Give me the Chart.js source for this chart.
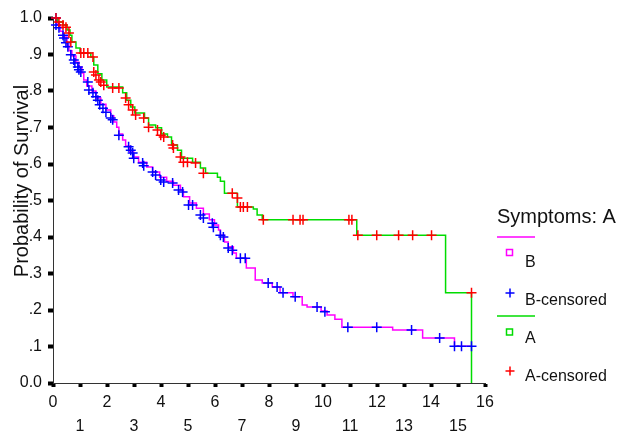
<!DOCTYPE html>
<html>
<head>
<meta charset="utf-8">
<script src="https://cdn.jsdelivr.net/npm/chart.js@4.4.1/dist/chart.umd.min.js"></script>
<style>
  body { margin: 0; background: #fff; }
</style>
</head>
<body>
<canvas id="survChart" width="619" height="435"></canvas>
<script>
// Kaplan-Meier steps (time, survival after the drop)
const aTime = [0, 0.18, 0.37, 0.52, 0.63, 0.70, 0.85, 1.00, 1.40, 1.51, 1.66, 1.81, 1.99, 2.58, 2.73,
  2.88, 3.03, 3.39, 3.54, 3.80, 4.02, 4.24, 4.39, 4.61, 4.76, 5.17, 5.46, 5.65, 6.09, 6.20,
  6.35, 6.83, 7.42, 7.56, 7.75, 11.25, 14.54, 15.50, 15.50];
const aSurv = [1.0, 0.989, 0.981, 0.967, 0.953, 0.934, 0.918, 0.904, 0.893, 0.871, 0.847, 0.830, 0.811, 0.795, 0.775,
  0.756, 0.740, 0.726, 0.707, 0.699, 0.682, 0.674, 0.652, 0.638, 0.616, 0.605, 0.589, 0.575, 0.564, 0.553,
  0.520, 0.482, 0.477, 0.460, 0.447, 0.405, 0.247, 0.247, 0];

const aCensTime = [0.11, 0.22, 0.37, 0.48, 0.59, 0.66, 1.03, 1.14, 1.29, 1.48, 1.51, 1.59, 1.70, 1.77, 1.88,
  2.21, 2.44, 2.69, 2.80, 2.95, 3.06, 3.36, 3.54, 3.87, 3.99, 4.10, 4.43, 4.46, 4.72, 4.83,
  4.98, 5.28, 5.57, 6.64, 6.83, 6.94, 7.05, 7.20, 7.79, 8.89, 9.15, 9.26, 10.96, 11.07, 11.29,
  11.99, 12.80, 13.32, 14.02, 15.50];
const aCensSurv = [1.0, 0.989, 0.981, 0.975, 0.959, 0.934, 0.904, 0.904, 0.904, 0.893, 0.852, 0.844, 0.830, 0.825, 0.816,
  0.808, 0.808, 0.781, 0.762, 0.748, 0.734, 0.726, 0.701, 0.693, 0.679, 0.674, 0.652, 0.644, 0.619, 0.605,
  0.605, 0.603, 0.575, 0.520, 0.507, 0.482, 0.482, 0.482, 0.447, 0.447, 0.447, 0.447, 0.447, 0.447, 0.405,
  0.405, 0.405, 0.405, 0.405, 0.247];

const bTime = [0, 0.15, 0.26, 0.37, 0.52, 0.59, 0.70, 0.85, 0.96, 1.07, 1.14, 1.25, 1.44, 1.59, 1.77,
  1.96, 2.14, 2.25, 2.36, 2.44, 2.58, 2.69, 2.84, 2.99, 3.17, 3.47, 3.69, 3.95, 4.21, 4.46,
  4.72, 4.83, 5.06, 5.31, 5.57, 5.79, 5.98, 6.13, 6.20, 6.35, 6.49, 6.68, 6.79, 7.16, 7.49,
  7.75, 8.12, 8.41, 8.89, 9.23, 9.41, 9.93, 10.15, 10.44, 10.70, 12.58, 13.69, 14.87, 15.50];
const bSurv = [1.0, 0.981, 0.964, 0.948, 0.926, 0.910, 0.896, 0.879, 0.866, 0.849, 0.830, 0.814, 0.800, 0.781, 0.764,
  0.748, 0.732, 0.715, 0.701, 0.682, 0.666, 0.649, 0.633, 0.619, 0.605, 0.592, 0.578, 0.564, 0.553, 0.542,
  0.529, 0.510, 0.493, 0.479, 0.463, 0.447, 0.433, 0.419, 0.405, 0.386, 0.373, 0.356, 0.342, 0.315, 0.282,
  0.274, 0.263, 0.247, 0.236, 0.214, 0.208, 0.197, 0.186, 0.175, 0.153, 0.145, 0.123, 0.101, 0.101];

const bCensTime = [0.11, 0.11, 0.22, 0.37, 0.41, 0.48, 0.55, 0.66, 0.77, 0.81, 0.92, 0.96, 1.03, 1.29, 1.33,
  1.48, 1.59, 1.66, 1.73, 1.85, 1.96, 2.14, 2.21, 2.44, 2.80, 2.88, 2.95, 2.99, 3.32, 3.36,
  3.69, 3.80, 3.99, 4.10, 4.43, 4.65, 4.80, 5.02, 5.17, 5.46, 5.57, 5.90, 5.94, 6.20, 6.31,
  6.49, 6.64, 6.94, 7.12, 7.97, 8.30, 8.52, 8.97, 9.78, 10.07, 10.92, 11.99, 13.28, 14.32, 14.87,
  15.13, 15.50];
const bCensSurv = [1.0, 0.981, 0.973, 0.953, 0.945, 0.932, 0.921, 0.899, 0.885, 0.877, 0.866, 0.858, 0.852, 0.825, 0.803,
  0.795, 0.784, 0.775, 0.762, 0.753, 0.742, 0.726, 0.721, 0.679, 0.647, 0.638, 0.630, 0.616, 0.603, 0.595,
  0.578, 0.570, 0.556, 0.551, 0.548, 0.529, 0.523, 0.488, 0.488, 0.460, 0.452, 0.438, 0.427, 0.405, 0.400,
  0.370, 0.364, 0.342, 0.342, 0.274, 0.263, 0.247, 0.236, 0.208, 0.195, 0.153, 0.153, 0.145, 0.123, 0.101,
  0.101, 0.101];

const xTickLabels = ["0", "1", "2", "3", "4", "5", "6", "7", "8", "9", "10", "11", "12", "13", "14", "15", "16"];
const yTickLabels = ["0.0", ".1", ".2", ".3", ".4", ".5", ".6", ".7", ".8", ".9", "1.0"];
const yTitle = "Probability of Survival";
const legendTitle = "Symptoms: A";
const legendLabels = ["B", "B-censored", "A", "A-censored"];

const FONT = "'Liberation Sans', Arial, sans-serif";
const GREEN = "rgb(0, 220, 0)";
const MAGENTA = "rgb(255, 0, 255)";
const RED = "rgb(255, 0, 0)";
const BLUE = "rgb(0, 0, 255)";

function zip(xs, ys) {
  return xs.map((x, i) => ({ x: x, y: ys[i] }));
}

// hand drawn legend + axis title, SPSS layout does not fit Chart.js' own
const symptomLegend = {
  id: "symptomLegend",
  afterDraw(chart) {
    const ctx = chart.ctx;
    ctx.save();
    ctx.fillStyle = "#111";
    ctx.textBaseline = "alphabetic";

    // y title, sits a bit above the middle of the axis like the original
    ctx.save();
    ctx.translate(28, 181);
    ctx.rotate(-Math.PI / 2);
    ctx.textAlign = "center";
    ctx.font = "20px " + FONT;
    ctx.fillText(yTitle, 0, 0);
    ctx.restore();

    ctx.textAlign = "left";
    ctx.font = "20px " + FONT;
    ctx.fillText(legendTitle, 497, 223);

    function line(y, color) {
      ctx.strokeStyle = color;
      ctx.lineWidth = 1.5;
      ctx.beginPath();
      ctx.moveTo(497, y);
      ctx.lineTo(535, y);
      ctx.stroke();
    }
    function square(cx, cy, color) {
      ctx.strokeStyle = color;
      ctx.lineWidth = 1.5;
      ctx.strokeRect(cx - 3, cy - 3, 6, 6);
    }
    function cross(cx, cy, color) {
      ctx.strokeStyle = color;
      ctx.lineWidth = 1.5;
      ctx.beginPath();
      ctx.moveTo(cx - 4.5, cy);
      ctx.lineTo(cx + 4.5, cy);
      ctx.moveTo(cx, cy - 4.5);
      ctx.lineTo(cx, cy + 4.5);
      ctx.stroke();
    }

    line(237, MAGENTA);
    square(509.5, 252.5, MAGENTA);
    cross(510, 293, BLUE);
    line(316, GREEN);
    square(509.5, 332, GREEN);
    cross(510, 371, RED);

    ctx.fillStyle = "#111";
    ctx.font = "16px " + FONT;
    ctx.fillText(legendLabels[0], 525, 267);
    ctx.fillText(legendLabels[1], 525, 305);
    ctx.fillText(legendLabels[2], 525, 343);
    ctx.fillText(legendLabels[3], 525, 381);
    ctx.restore();
  }
};

const ctx = document.getElementById("survChart").getContext("2d");
const survChart = new Chart(ctx, {
  type: "scatter",
  data: {
    datasets: [
      {
        label: "A-censored",
        data: zip(aCensTime, aCensSurv),
        pointStyle: "cross",
        pointRadius: 5,
        pointBorderWidth: 1.5,
        borderColor: RED,
        backgroundColor: RED,
        clip: false,
      },
      {
        label: "B-censored",
        data: zip(bCensTime, bCensSurv),
        pointStyle: "cross",
        pointRadius: 5,
        pointBorderWidth: 1.5,
        borderColor: BLUE,
        backgroundColor: BLUE,
        clip: false,
      },
      {
        label: "A",
        data: zip(aTime, aSurv),
        showLine: true,
        stepped: true,
        pointRadius: 0,
        borderWidth: 1.5,
        borderColor: GREEN,
        clip: false,
      },
      {
        label: "B",
        data: zip(bTime, bSurv),
        showLine: true,
        stepped: true,
        pointRadius: 0,
        borderWidth: 1.5,
        borderColor: MAGENTA,
        clip: false,
      },
    ],
  },
  options: {
    responsive: false,
    animation: false,
    layout: {
      padding: { top: 18, right: 134, left: 0, bottom: 0 },
    },
    plugins: {
      legend: { display: false },
      tooltip: { enabled: false },
    },
    scales: {
      x: {
        type: "linear",
        min: 0,
        max: 16,
        afterFit: (scale) => { scale.height = 52; },
        grid: {
          drawOnChartArea: false,
          tickLength: 4,
          tickWidth: 4,
          tickColor: "#000",
        },
        border: { color: "#333", width: 1 },
        ticks: {
          stepSize: 1,
          autoSkip: false,
          maxRotation: 0,
          padding: 4,
          color: "#111",
          font: { family: FONT, size: 16, lineHeight: 1.5 },
          callback: function (v) {
            const lbl = xTickLabels[v];
            return v % 2 === 0 ? lbl : ["", lbl];
          },
        },
      },
      y: {
        min: 0,
        max: 1,
        afterFit: (scale) => { scale.width = 53; },
        grid: {
          drawOnChartArea: false,
          tickLength: 5,
          tickWidth: 4,
          tickColor: "#000",
        },
        border: { color: "#333", width: 1 },
        ticks: {
          stepSize: 0.1,
          padding: 6,
          color: "#111",
          font: { family: FONT, size: 16 },
          callback: function (v) {
            return yTickLabels[Math.round(v * 10)];
          },
        },
      },
    },
  },
  plugins: [symptomLegend],
});
</script>
</body>
</html>
